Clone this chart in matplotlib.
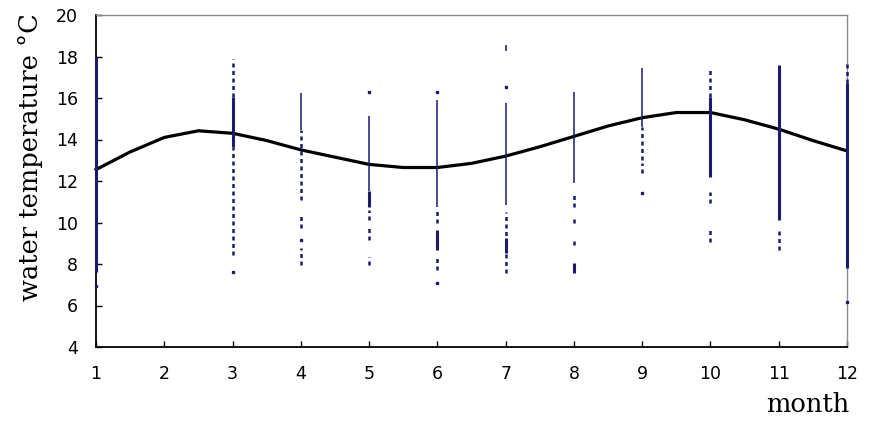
import matplotlib
matplotlib.use("Agg")
import matplotlib.pyplot as plt

# fitted seasonal curve, read every half month
curve_month = [1, 1.5, 2, 2.5, 3, 3.5, 4, 4.5, 5, 5.5, 6, 6.5,
               7, 7.5, 8, 8.5, 9, 9.5, 10, 10.5, 11, 11.5, 12]
curve_temp = [12.55, 13.4, 14.1, 14.42, 14.3, 13.95, 13.5, 13.15, 12.8, 12.65, 12.65, 12.85,
              13.2, 13.65, 14.15, 14.65, 15.05, 15.3, 15.3, 14.95, 14.5, 13.95, 13.45]

# observed temperatures per month, as ranges where records overlap
thin_runs = {4: [(14.46, 16.26)],
             5: [(11.5, 15.13)],
             6: [(10.76, 15.9)],
             7: [(18.25, 18.55), (10.84, 15.78)],
             8: [(11.89, 16.3)],
             9: [(14.62, 17.43)]}
dense_runs = {1: [(7.6, 18.0)],
              3: [(13.65, 16.06)],
              5: [(10.76, 11.5)],
              6: [(8.67, 9.64)],
              7: [(8.51, 9.24)],
              8: [(7.55, 8.03)],
              10: [(12.21, 16.06)],
              11: [(10.12, 17.59)],
              12: [(7.79, 16.71)]}
sparse_runs = {3: [(16.06, 17.9), (8.43, 13.65)],
               4: [(11.08, 14.46), (9.72, 10.36), (7.95, 8.76)],
               5: [(10.1, 10.6), (9.16, 9.8), (7.95, 8.32)],
               6: [(10.0, 10.7), (7.71, 8.43)],
               7: [(7.55, 10.52)],
               8: [(10.76, 11.49), (9.96, 10.2), (8.92, 9.24)],
               9: [(13.01, 14.62), (12.37, 12.85)],
               10: [(16.06, 17.43), (10.92, 11.49), (9.07, 9.8)],
               11: [(8.67, 9.72)],
               12: [(16.71, 17.67)]}
single_obs = {1: [6.95], 3: [7.63], 4: [9.16], 5: [16.3], 6: [16.3, 7.07],
              7: [16.55], 9: [11.41], 12: [6.18]}

month_ticks = list(range(1, 13))
temp_ticks = list(range(4, 21, 2))

navy = "#1a1a6e"

fig = plt.figure(figsize=(8.72, 4.21), dpi=100)
ax = fig.add_axes([96 / 872, 1 - 347 / 421, 751 / 872, 332 / 421])

ax.plot(curve_month, curve_temp, color="black", lw=2.3, zorder=2, clip_on=False)

for m, runs in thin_runs.items():
    for lo, hi in runs:
        ax.vlines(m, lo, hi, color=navy, lw=1.1, zorder=3, clip_on=False)
for m, runs in dense_runs.items():
    for lo, hi in runs:
        ax.vlines(m, lo, hi, color=navy, lw=2.2, zorder=3, clip_on=False)
for m, runs in sparse_runs.items():
    for lo, hi in runs:
        ax.vlines(m, lo, hi, color=navy, lw=1.8, linestyles=(0, (1.6, 1.4)),
                  zorder=3, clip_on=False)
for m, vals in single_obs.items():
    ax.plot([m] * len(vals), vals, ls="none", marker="s", ms=1.8, color=navy,
            zorder=3, clip_on=False)

ax.set_xlim(1, 12)
ax.set_ylim(4, 20)
ax.set_xticks(month_ticks)
ax.set_yticks(temp_ticks)
ax.tick_params(direction="in", length=4.5, width=1, labelsize=12.5, pad=13)

ax.spines["left"].set_linewidth(1.3)
ax.spines["bottom"].set_linewidth(1.3)
for s in ["top", "right"]:
    ax.spines[s].set_color("#8a8a8a")
    ax.spines[s].set_linewidth(1.0)

fig.text(30 / 872, 1 - 157 / 421, "water temperature \u00b0C", rotation=90,
         ha="center", va="center", family="DejaVu Serif", fontsize=18.5)
fig.text(808 / 872, 1 - 404 / 421, "month", ha="center", va="center",
         family="DejaVu Serif", fontsize=18.5)

fig.savefig("out.png", dpi=100)
